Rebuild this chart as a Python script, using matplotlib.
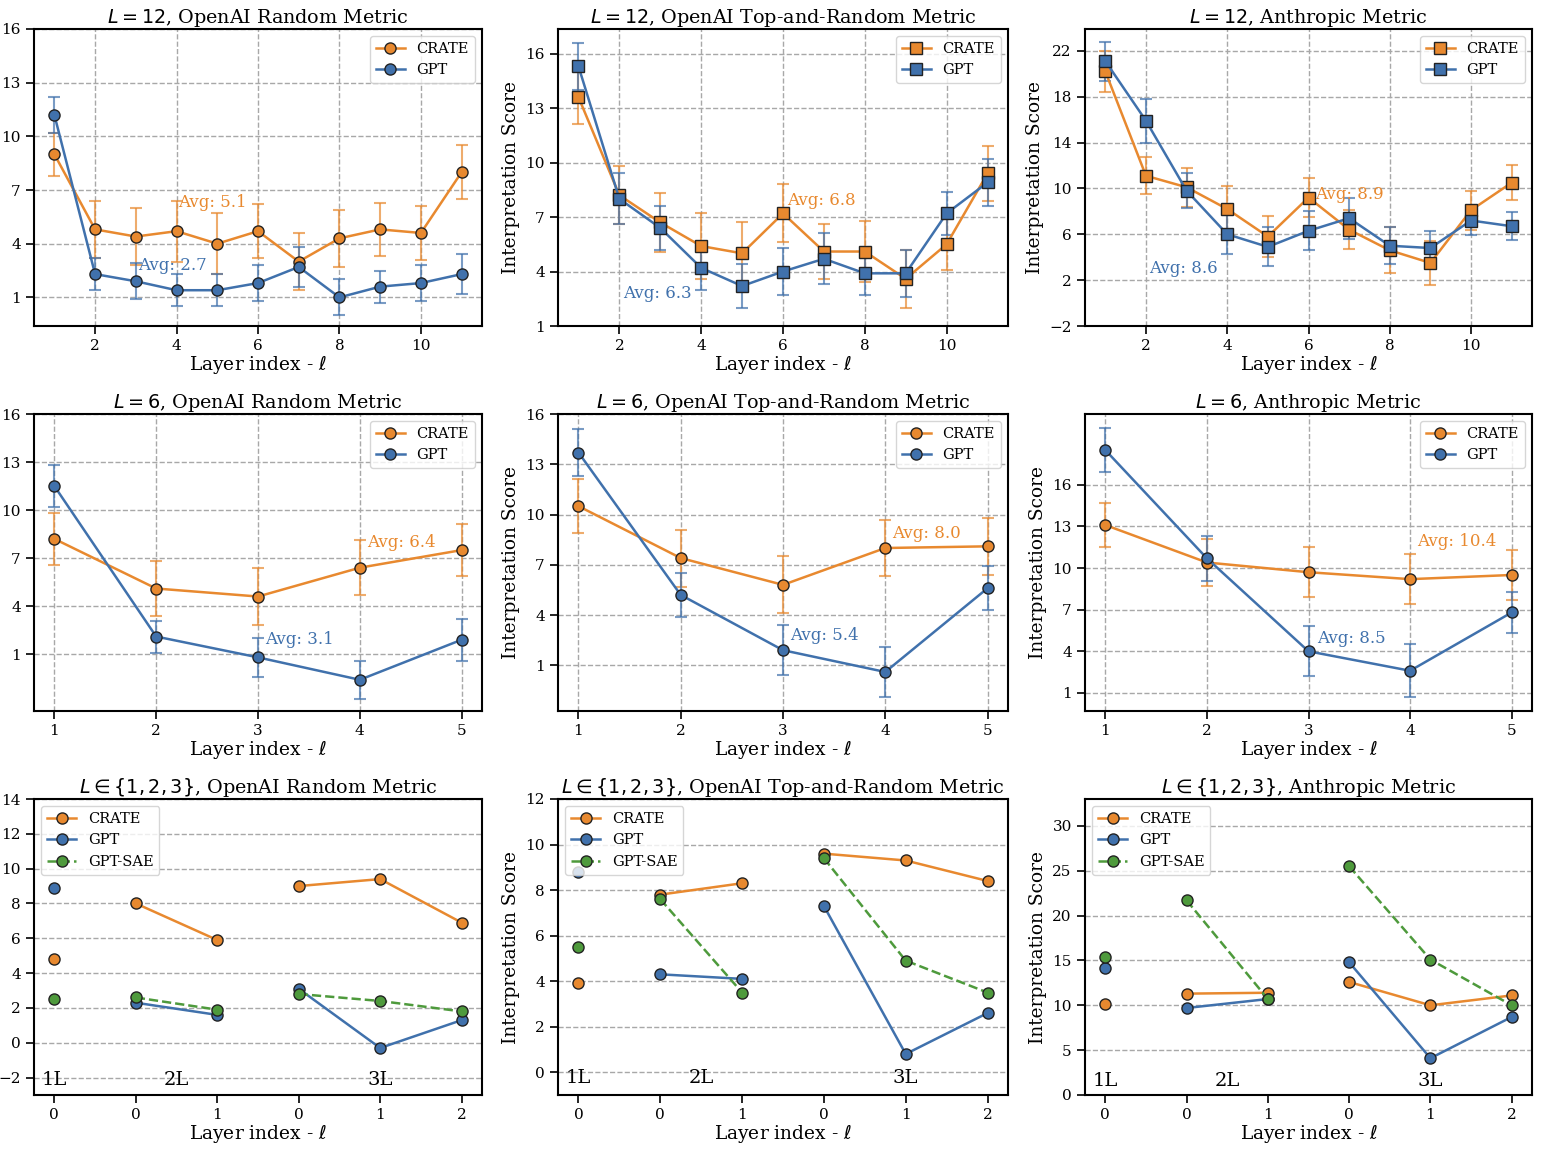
import matplotlib
matplotlib.use("Agg")
import matplotlib.pyplot as plt
import numpy as np

plt.rcParams.update({
    "font.family": "serif",
    "font.serif": ["DejaVu Serif"],
    "mathtext.fontset": "dejavusans",
    "axes.linewidth": 1.5,
    "xtick.major.size": 6,
    "ytick.major.size": 6,
    "xtick.major.width": 1.2,
    "ytick.major.width": 1.2,
    "xtick.labelsize": 11,
    "ytick.labelsize": 11,
    "axes.titlesize": 13.8,
    "axes.labelsize": 13.4,
    "legend.fontsize": 10.5,
})

ORANGE = "#E8892F"
BLUE = "#4071AC"
GREEN = "#4E9A3C"

# ---- L = 12 ----
layers12 = np.arange(1, 12)
r12_crate = [9.0, 4.8, 4.4, 4.7, 4.0, 4.7, 3.0, 4.3, 4.8, 4.6, 8.0]
r12_crate_err = [1.2, 1.6, 1.6, 1.7, 1.7, 1.5, 1.6, 1.6, 1.5, 1.5, 1.5]
r12_gpt = [11.2, 2.3, 1.9, 1.4, 1.4, 1.8, 2.7, 1.0, 1.6, 1.8, 2.3]
r12_gpt_err = [1.0, 0.9, 1.0, 0.9, 0.9, 1.0, 1.1, 1.0, 0.9, 1.0, 1.1]

tr12_crate = [13.6, 8.2, 6.7, 5.4, 5.0, 7.2, 5.1, 5.1, 3.6, 5.5, 9.4]
tr12_crate_err = [1.5, 1.6, 1.6, 1.8, 1.7, 1.6, 1.5, 1.7, 1.6, 1.4, 1.5]
tr12_gpt = [15.3, 8.0, 6.4, 4.2, 3.2, 4.0, 4.7, 3.9, 3.9, 7.2, 8.9]
tr12_gpt_err = [1.3, 1.4, 1.2, 1.2, 1.2, 1.3, 1.4, 1.2, 1.3, 1.2, 1.3]

an12_crate = [20.2, 11.1, 10.1, 8.2, 5.8, 9.2, 6.4, 4.6, 3.5, 8.1, 10.5]
an12_crate_err = [1.8, 1.6, 1.7, 2.0, 1.8, 1.7, 1.7, 2.0, 1.9, 1.7, 1.5]
an12_gpt = [21.1, 15.9, 9.8, 6.0, 4.9, 6.3, 7.4, 5.0, 4.8, 7.2, 6.7]
an12_gpt_err = [1.7, 1.9, 1.5, 1.7, 1.7, 1.7, 1.8, 1.6, 1.5, 1.3, 1.2]

# ---- L = 6 ----
layers6 = np.arange(1, 6)
r6_crate = [8.2, 5.1, 4.6, 6.4, 7.5]
r6_crate_err = [1.6, 1.7, 1.8, 1.7, 1.6]
r6_gpt = [11.5, 2.1, 0.8, -0.6, 1.9]
r6_gpt_err = [1.3, 1.0, 1.2, 1.2, 1.3]

tr6_crate = [10.5, 7.4, 5.8, 8.0, 8.1]
tr6_crate_err = [1.6, 1.7, 1.7, 1.7, 1.7]
tr6_gpt = [13.7, 5.2, 1.9, 0.6, 5.6]
tr6_gpt_err = [1.4, 1.3, 1.5, 1.5, 1.3]

an6_crate = [13.1, 10.4, 9.7, 9.2, 9.5]
an6_crate_err = [1.6, 1.7, 1.8, 1.8, 1.8]
an6_gpt = [18.5, 10.7, 4.0, 2.6, 6.8]
an6_gpt_err = [1.6, 1.6, 1.8, 1.9, 1.5]

# ---- L in {1,2,3} ----
small_pos = np.arange(6)
small_ticklabels = ["0", "0", "1", "0", "1", "2"]
small_groups = [(0, 1), (1, 3), (3, 6)]
small_group_names = ["1L", "2L", "3L"]

rs_crate = [4.8, 8.0, 5.9, 9.0, 9.4, 6.9]
rs_gpt = [8.9, 2.3, 1.6, 3.1, -0.3, 1.3]
rs_sae = [2.5, 2.6, 1.9, 2.8, 2.4, 1.8]

trs_crate = [3.9, 7.8, 8.3, 9.6, 9.3, 8.4]
trs_gpt = [8.8, 4.3, 4.1, 7.3, 0.8, 2.6]
trs_sae = [5.5, 7.6, 3.5, 9.4, 4.9, 3.5]

ans_crate = [10.1, 11.3, 11.4, 12.6, 10.0, 11.1]
ans_gpt = [14.2, 9.7, 10.7, 14.8, 4.1, 8.7]
ans_sae = [15.4, 21.7, 10.7, 25.5, 15.1, 10.0]

W, H = 1544, 1150
fig = plt.figure(figsize=(W / 100, H / 100), dpi=100)

col_px = [(34, 482), (558, 1008), (1085, 1532)]
row_px = [(29, 326), (414, 711), (799, 1095)]


def make_ax(r, c):
    l, rt = col_px[c]
    t, b = row_px[r]
    ax = fig.add_axes([l / W, 1 - b / H, (rt - l) / W, (b - t) / H])
    ax.set_axisbelow(True)
    return ax


def line_panel(ax, x, crate, crate_err, gpt, gpt_err, marker, title, ylim, yticks, xticks):
    for y, e, col, lab in [(crate, crate_err, ORANGE, "CRATE"), (gpt, gpt_err, BLUE, "GPT")]:
        ax.errorbar(x, y, yerr=e, fmt="none", ecolor=col, alpha=0.7,
                    capsize=4, elinewidth=1.5, capthick=1.5, zorder=2)
        ax.plot(x, y, "-", marker=marker, color=col, mec="#222222", mew=1,
                ms=8, lw=1.8, label=lab, zorder=3)
    ax.grid(True, ls="--", color="#a8a8a8", lw=1)
    ax.set_ylim(*ylim)
    ax.set_yticks(yticks)
    ax.set_xticks(xticks)
    ax.set_title(title, pad=4)
    ax.set_xlabel(r"Layer index - $\ell$", labelpad=0)
    ax.legend(loc="upper right")


def small_panel(ax, crate, gpt, sae, title, ylim, yticks, label_y):
    for a, b in small_groups:
        xs = small_pos[a:b]
        ax.plot(xs, crate[a:b], "-o", color=ORANGE, mec="#222222", mew=1, ms=8, lw=1.8,
                label="CRATE" if a == 0 else None)
        ax.plot(xs, gpt[a:b], "-o", color=BLUE, mec="#222222", mew=1, ms=8, lw=1.8,
                label="GPT" if a == 0 else None)
        ax.plot(xs, sae[a:b], "--o", color=GREEN, mec="#222222", mew=1, ms=8, lw=1.8,
                label="GPT-SAE" if a == 0 else None)
    ax.grid(True, axis="y", ls="--", color="#a8a8a8", lw=1)
    ax.set_ylim(*ylim)
    ax.set_yticks(yticks)
    ax.set_xticks(small_pos)
    ax.set_xticklabels(small_ticklabels)
    ax.set_title(title, pad=4)
    ax.set_xlabel(r"Layer index - $\ell$", labelpad=0)
    for (a, b), name in zip(small_groups, small_group_names):
        ax.text((small_pos[a] + small_pos[b - 1]) / 2, label_y, name,
                ha="center", va="center", fontsize=14)
    ax.legend(loc="upper left")


def avg(ax, x, y, s, col):
    ax.text(x, y, s, color=col, fontsize=12, ha="left", va="center")


# Row 1
ax = make_ax(0, 0)
line_panel(ax, layers12, r12_crate, r12_crate_err, r12_gpt, r12_gpt_err, "o",
           r"$L = 12$, OpenAI Random Metric", (-0.6, 16), [1, 4, 7, 10, 13, 16], [2, 4, 6, 8, 10])
avg(ax, 4.05, 6.3, "Avg: %.1f" % np.mean(r12_crate), ORANGE)
avg(ax, 3.05, 2.8, "Avg: %.1f" % np.mean(r12_gpt), BLUE)

ax = make_ax(0, 1)
line_panel(ax, layers12, tr12_crate, tr12_crate_err, tr12_gpt, tr12_gpt_err, "s",
           r"$L = 12$, OpenAI Top-and-Random Metric", (1, 17.35), [1, 4, 7, 10, 13, 16], [2, 4, 6, 8, 10])
ax.set_ylabel("Interpretation Score")
avg(ax, 6.1, 7.9, "Avg: %.1f" % np.mean(tr12_crate), ORANGE)
avg(ax, 2.1, 2.8, "Avg: %.1f" % np.mean(tr12_gpt), BLUE)

ax = make_ax(0, 2)
line_panel(ax, layers12, an12_crate, an12_crate_err, an12_gpt, an12_gpt_err, "s",
           r"$L = 12$, Anthropic Metric", (-2, 23.9), [-2, 2, 6, 10, 14, 18, 22], [2, 4, 6, 8, 10])
ax.set_ylabel("Interpretation Score")
avg(ax, 6.15, 9.5, "Avg: %.1f" % np.mean(an12_crate), ORANGE)
avg(ax, 2.08, 3.0, "Avg: %.1f" % np.mean(an12_gpt), BLUE)

# Row 2
ax = make_ax(1, 0)
line_panel(ax, layers6, r6_crate, r6_crate_err, r6_gpt, r6_gpt_err, "o",
           r"$L = 6$, OpenAI Random Metric", (-2.55, 16), [1, 4, 7, 10, 13, 16], [1, 2, 3, 4, 5])
avg(ax, 4.07, 8.0, "Avg: %.1f" % np.mean(r6_crate), ORANGE)
avg(ax, 3.07, 1.9, "Avg: %.1f" % np.mean(r6_gpt), BLUE)

ax = make_ax(1, 1)
line_panel(ax, layers6, tr6_crate, tr6_crate_err, tr6_gpt, tr6_gpt_err, "o",
           r"$L = 6$, OpenAI Top-and-Random Metric", (-1.73, 16), [1, 4, 7, 10, 13, 16], [1, 2, 3, 4, 5])
ax.set_ylabel("Interpretation Score")
avg(ax, 4.07, 8.85, "Avg: %.1f" % np.mean(tr6_crate), ORANGE)
avg(ax, 3.07, 2.8, "Avg: %.1f" % np.mean(tr6_gpt), BLUE)

ax = make_ax(1, 2)
line_panel(ax, layers6, an6_crate, an6_crate_err, an6_gpt, an6_gpt_err, "o",
           r"$L = 6$, Anthropic Metric", (-0.3, 21.1), [1, 4, 7, 10, 13, 16], [1, 2, 3, 4, 5])
ax.set_ylabel("Interpretation Score")
avg(ax, 4.07, 11.9, "Avg: %.1f" % np.mean(an6_crate), ORANGE)
avg(ax, 3.08, 4.9, "Avg: %.1f" % np.mean(an6_gpt), BLUE)

# Row 3
ax = make_ax(2, 0)
small_panel(ax, rs_crate, rs_gpt, rs_sae, r"$L \in \{1, 2, 3\}$, OpenAI Random Metric",
            (-3, 14), np.arange(-2, 15, 2), -2.15)

ax = make_ax(2, 1)
small_panel(ax, trs_crate, trs_gpt, trs_sae, r"$L \in \{1, 2, 3\}$, OpenAI Top-and-Random Metric",
            (-1, 12), np.arange(0, 13, 2), -0.25)
ax.set_ylabel("Interpretation Score")

ax = make_ax(2, 2)
small_panel(ax, ans_crate, ans_gpt, ans_sae, r"$L \in \{1, 2, 3\}$, Anthropic Metric",
            (0, 33), np.arange(0, 31, 5), 1.6)
ax.set_ylabel("Interpretation Score")

fig.savefig("out.png", dpi=100)
